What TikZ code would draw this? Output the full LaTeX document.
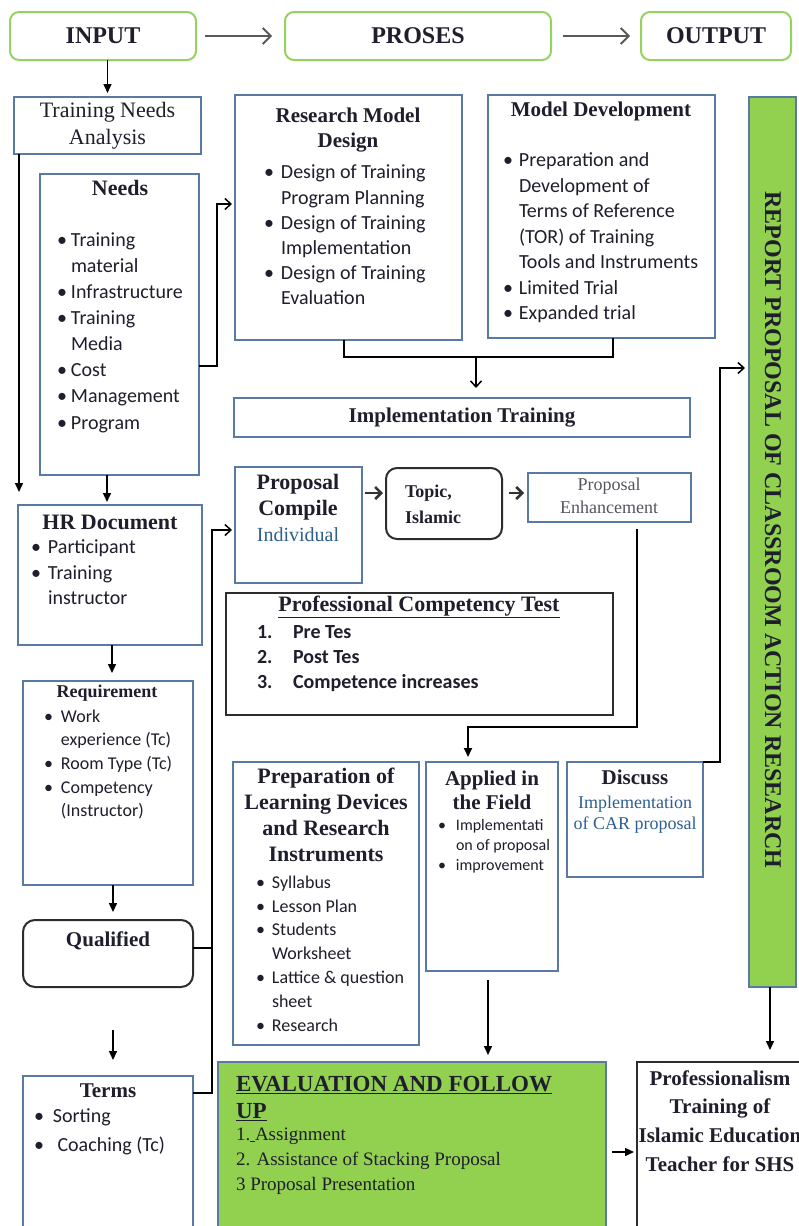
\documentclass[tikz,border=0pt]{standalone}
\usepackage{fontspec}
\setmainfont{Liberation Serif}
\newfontfamily\cf{Carlito}
\usetikzlibrary{arrows.meta}
\definecolor{bbd}{RGB}{88,122,163}
\definecolor{kbd}{RGB}{45,45,45}
\definecolor{gbd}{RGB}{150,210,95}
\definecolor{gfl}{RGB}{146,208,80}
\definecolor{txt}{RGB}{30,30,45}
\definecolor{btx}{RGB}{45,95,145}
\definecolor{gtx}{RGB}{85,85,95}
\newcommand{\bul}[1]{\makebox[#1pt][l]{\textbullet}}
\newcommand{\ind}[1]{\hspace*{#1pt}}
\newcommand{\cfs}[2]{\cf\fontsize{#1}{#2}\selectfont}
\newcommand{\tms}[2]{\fontsize{#1}{#2}\selectfont}
\newcommand{\mkbox}[7]{\node[#2, minimum width={#5-#3}, minimum height={#6-#4}, anchor=north west] (#1) at (#3,#4) {#7};}
\begin{document}
\begin{tikzpicture}[x=1pt,y=-1pt,
  every node/.style={inner sep=0pt, outer sep=0pt, text=txt},
  bbox/.style={draw=bbd, line width=2pt, fill=white},
  kbox/.style={draw=kbd, line width=2pt, fill=white},
  gtop/.style={draw=gbd, line width=2pt, rounded corners=9pt, fill=white},
  gfill/.style={draw=bbd, line width=1.5pt, fill=gfl},
  hd/.style={font=\tms{22}{26}\bfseries, align=center},
  lst/.style={align=left, anchor=west},
  ln/.style={draw=black, line width=1.5pt},
  farr/.style={draw=black, line width=1.5pt, -{Triangle[length=9pt,width=8pt]}},
  oarr/.style={draw=black, line width=1.5pt, -{Straight Barb[length=6pt,width=11pt]}},
  barr/.style={draw=black!80, line width=2.5pt, -{Straight Barb[length=6pt,width=12pt]}},
  toparr/.style={draw=black!65, line width=1.8pt, -{Straight Barb[length=8pt,width=16pt]}}
]
\useasboundingbox (0,0) rectangle (799,1226);
\fill[white] (0,0) rectangle (799,1226);

% ---------- boxes ----------
\mkbox{input}{gtop, font=\tms{24}{28}\bfseries}{10}{12}{196}{60}{INPUT}
\mkbox{proses}{gtop, font=\tms{24}{28}\bfseries}{285}{12}{551}{60}{PROSES}
\mkbox{output}{gtop, font=\tms{24}{28}\bfseries}{641}{12}{791}{60}{OUTPUT}
\mkbox{tna}{bbox, align=center, font=\tms{22}{27}}{14}{97}{201}{154}{Training Needs\\Analysis}
\mkbox{needs}{bbox}{40}{174}{199}{475}{}
\mkbox{rmd}{bbox}{235}{95}{462}{340}{}
\mkbox{mdev}{bbox}{488}{95}{715}{338}{}
\mkbox{report}{gfill}{749}{97}{796}{987}{}
\mkbox{impl}{bbox, font=\tms{21}{25}\bfseries}{234}{398}{690}{437}{Implementation Training}
\mkbox{hr}{bbox}{18}{505}{202}{645}{}
\mkbox{req}{bbox}{23}{681}{193}{885}{}
\mkbox{qual}{kbox, rounded corners=12pt}{23}{920}{193}{987}{}
\mkbox{terms}{bbox}{23}{1076}{193}{1240}{}
\mkbox{pc}{bbox}{235}{467}{362}{583}{}
\mkbox{topic}{kbox, rounded corners=11pt}{386}{468}{502}{539}{}
\mkbox{enh}{bbox}{528}{473}{691}{522}{}
\mkbox{pct}{kbox}{226}{593}{613}{715}{}
\mkbox{prep}{bbox}{233}{762}{419}{1045}{}
\mkbox{appl}{bbox}{426}{762}{558}{971}{}
\mkbox{disc}{bbox}{567}{762}{703}{877}{}
\mkbox{eval}{gfill}{218}{1062}{606}{1240}{}
\mkbox{prof}{kbox}{637}{1062}{812}{1240}{}

% ---------- connectors ----------
\draw[toparr, shorten <=9pt, shorten >=13pt] (input) -- (proses);
\draw[toparr, shorten <=12pt, shorten >=11pt] (proses) -- (output);
\draw[farr, shorten >=4pt] (tna.north |- input.south) -- (tna.north);
\draw[farr, shorten >=13pt] (tna.south -| 19,0) -- (hr.north -| 19,0);
\draw[farr, shorten >=3pt] (needs.south -| 107,0) -- (hr.north -| 107,0);
\draw[oarr, shorten >=3pt] (needs.east |- 0,366) -- (217,366) -- (217,204) -- (rmd.west |- 0,204);
\draw[ln] (rmd.south -| 344,0) -- (344,357) -- (613,357) -- (mdev.south -| 613,0);
\coordinate (jn) at (476,357);
\draw[oarr, shorten >=10pt] (jn) -- (impl.north -| jn);
\draw[farr, shorten >=8pt] (hr.south -| 112,0) -- (req.north -| 112,0);
\draw[farr, shorten >=8pt] (req.south -| 113,0) -- (qual.north -| 113,0);
\coordinate (qt) at (113,1030);
\draw[farr, shorten >=16pt] (qt) -- (terms.north -| qt);
\draw[ln] (qual.east |- 0,948) -- (212,948);
\draw[oarr, shorten >=3pt] (terms.east |- 0,1093) -- (212,1093) -- (212,530) -- (pc.west |- 0,530);
\draw[barr, shorten <=3pt, shorten >=3pt] (pc.east |- 0,493) -- (topic.west |- 0,493);
\draw[barr, shorten <=7pt, shorten >=4pt] (topic.east |- 0,493) -- (enh.west |- 0,493);
\draw[farr, line width=2pt, shorten <=7pt, shorten >=5pt] (enh.south -| 637,0) -- (637,727) -- (468,727) -- (appl.north -| 468,0);
\draw[farr, shorten <=9pt, shorten >=7pt] (appl.south -| 488,0) -- (eval.north -| 488,0);
\draw[oarr, shorten >=4pt] (disc.north east) -- (720,762) -- (720,368) -- (report.west |- 0,368);
\draw[farr, shorten >=12pt] (report.south -| 770,0) -- (prof.north -| 770,0);
\draw[farr, shorten <=6pt, shorten >=3pt] (eval.east |- 0,1152) -- (prof.west |- 0,1152);

% ---------- texts ----------
\node[hd] (needsH) at (120,188) {Needs};
\node[lst, font=\cfs{20}{26.1}] (needsL) at (57,332.5) {\bul{14}Training\\ \ind{14}material\\ \bul{14}Infrastructure\\ \bul{14}Training\\ \ind{14}Media\\ \bul{14}Cost\\ \bul{14}Management\\ \bul{14}Program};

\node[hd, font=\tms{21}{25}\bfseries] (rmdH) at (348,130.5) {Research Model\\Design};
\node[lst, font=\cfs{20}{25.2}] (rmdL) at (264,235) {\bul{17}Design of Training\\ \ind{17}Program Planning\\ \bul{17}Design of Training\\ \ind{17}Implementation\\ \bul{17}Design of Training\\ \ind{17}Evaluation};

\node[hd, font=\tms{21}{25}\bfseries] (mdevH) at (601,111) {Model Development};
\node[lst, font=\cfs{20}{25.5}] (mdevL) at (503,238) {\bul{16}Preparation and\\ \ind{16}Development of\\ \ind{16}Terms of Reference\\ \ind{16}(TOR) of Training\\ \ind{16}Tools and Instruments\\ \bul{16}Limited Trial\\ \bul{16}Expanded trial};

\node[font=\tms{24}{28}\bfseries, rotate=-90] (repT) at (773,530) {REPORT PROPOSAL OF CLASSROOM ACTION RESEARCH};

\node[hd] (hrH) at (110,522) {HR Document};
\node[lst, font=\cfs{20}{25.5}] (hrL) at (31,572.5) {\bul{17}Participant\\ \bul{17}Training\\ \ind{17}instructor};

\node[hd, font=\tms{18}{22}\bfseries] (reqH) at (107,693) {Requirement};
\node[lst, font=\cfs{18}{23.7}] (reqL) at (44,764.5) {\bul{17}Work\\ \ind{17}experience (Tc)\\ \bul{17}Room Type (Tc)\\ \bul{17}Competency\\ \ind{17}(Instructor)};

\node[hd, font=\tms{21}{25}\bfseries] (qualH) at (108,941) {Qualified};

\node[hd, font=\tms{21}{25}\bfseries] (termsH) at (108,1091) {Terms};
\node[lst, font=\cfs{20}{29}] (termsL) at (34,1131.5) {\bul{19}Sorting\\ \bul{19} Coaching (Tc)};

\node[align=center, font=\tms{22}{26}\bfseries] (pcT) at (298,508) {Proposal\\Compile\\{\mdseries\color{btx}\fontsize{20}{26}\selectfont Individual}};

\node[lst, font=\tms{18}{26}\bfseries] (topicT) at (405,504) {Topic,\\Islamic};

\node[align=center, font=\tms{18}{23}, text=gtx] (enhT) at (609,495.5) {Proposal\\Enhancement};

\node[hd] (pctH) at (419,607) {\underline{Professional Competency Test}};
\node[lst, font=\cfs{20}{25}\bfseries] (pctL) at (257,659) {\makebox[36pt][l]{1.}Pre Tes\\ \makebox[36pt][l]{2.}Post Tes\\ \makebox[36pt][l]{3.}Competence increases};

\node[hd] (prepH) at (326,815) {Preparation of\\Learning Devices\\and Research\\Instruments};
\node[lst, font=\cfs{18}{23.8}] (prepL) at (256,953.5) {\bul{16}Syllabus\\ \bul{16}Lesson Plan\\ \bul{16}Students\\ \ind{16}Worksheet\\ \bul{16}Lattice \& question\\ \ind{16}sheet\\ \bul{16}Research};

\node[hd, font=\tms{21}{24}\bfseries] (applH) at (492,790) {Applied in\\the Field};
\node[lst, font=\cfs{16}{20}] (applL) at (438,846) {\bul{18}Implementati\\ \ind{18}on of proposal\\ \bul{18}improvement};

\node[hd, font=\tms{21}{25}\bfseries] (discH) at (635,777) {Discuss};
\node[align=center, font=\tms{18}{21}, text=btx] (discT) at (635,814.5) {Implementation\\of CAR proposal};

\node[lst, font=\tms{23}{27}\bfseries] (evalH) at (236,1098.5) {\underline{EVALUATION AND FOLLOW}\\\underline{UP}};
\node[lst, font=\tms{19}{25}] (evalL) at (236,1161) {1.\underline{\ }Assignment\\ 2. Assistance of Stacking Proposal\\ 3 Proposal Presentation};

\node[hd, font=\tms{21}{28.7}\bfseries] (profT) at (720,1121) {Professionalism\\Training of\\Islamic Education\\Teacher for SHS};
\end{tikzpicture}
\end{document}
